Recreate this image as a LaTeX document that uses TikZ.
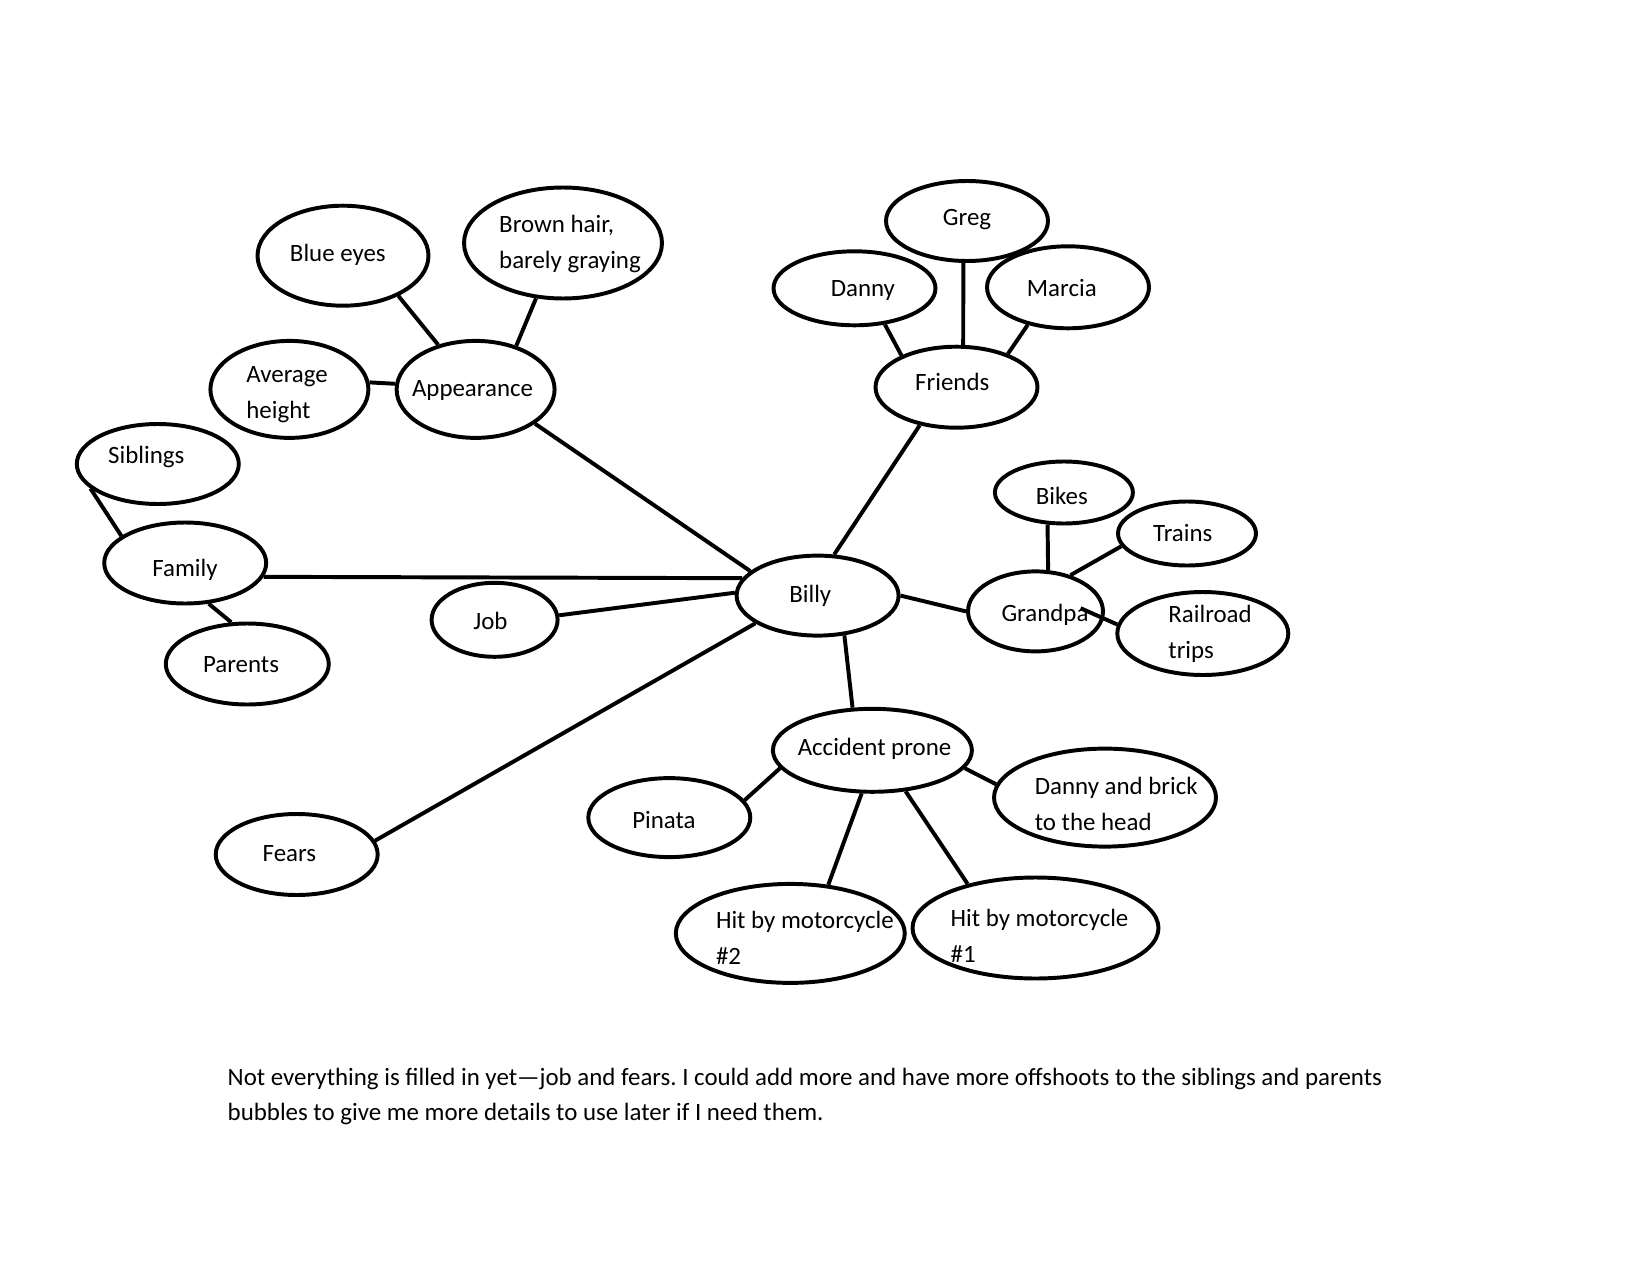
\documentclass[tikz,border=0pt]{standalone}
\usepackage{fontspec}
\setmainfont{Carlito}
\usetikzlibrary{shapes.geometric}
\frenchspacing

\begin{document}
\begin{tikzpicture}[
		x=0.016933cm, y=-0.016933cm,
		bubble/.style 2 args={draw, ellipse, line width=1.9pt, inner sep=0pt, minimum width=#1*0.4818pt, minimum height=#2*0.4818pt},
		txt/.style={inner sep=0pt, yshift=-1pt, font=\fontsize{12pt}{17.25pt}\selectfont, align=left},
		spoke/.style={draw, line width=1.9pt},
		]
		\useasboundingbox (0,0) rectangle (1650,1275);

		% the bubbles
		\node[bubble={162}{80}] (billy) at (817.6,595.6) {};
		\node[bubble={158}{97}] (appearance) at (475.6,389.4) {};
		\node[bubble={171}{100}] (blueeyes) at (343,255.7) {};
		\node[bubble={198}{111}] (brownhair) at (563,243) {};
		\node[bubble={158}{97}] (avgheight) at (289.4,389.4) {};
		\node[bubble={162}{80}] (siblings) at (157.8,464) {};
		\node[bubble={162}{81}] (family) at (185.2,563) {};
		\node[bubble={163}{81}] (parents) at (247.3,664) {};
		\node[bubble={126}{74}] (job) at (494.6,619.8) {};
		\node[bubble={162}{81}] (fears) at (296.7,854.5) {};
		\node[bubble={162}{81}] (friends) at (956.5,387.2) {};
		\node[bubble={162}{74}] (danny) at (854.5,288.3) {};
		\node[bubble={162}{80}] (greg) at (967,221) {};
		\node[bubble={162}{82}] (marcia) at (1068,287.3) {};
		\node[bubble={135}{80}] (grandpa) at (1035.5,611.4) {};
		\node[bubble={138}{62}] (bikes) at (1063.9,492.5) {};
		\node[bubble={138}{64}] (trains) at (1187,533.5) {};
		\node[bubble={171}{83}] (railroad) at (1202.8,633.5) {};
		\node[bubble={199}{83}] (accident) at (872.4,750.3) {};
		\node[bubble={162}{79}] (pinata) at (669.3,817.6) {};
		\node[bubble={222}{98}] (brick) at (1105,797.6) {};
		\node[bubble={229}{99}] (hittwo) at (790.3,933.4) {};
		\node[bubble={246}{101}] (hitone) at (1035.5,928) {};

		% the texts
		\node[txt] (billy-t) at (810.3,593.5) {Billy};
		\node[txt] (appearance-t) at (472.5,388.3) {Appearance};
		\node[txt] (blueeyes-t) at (337.8,252.6) {Blue eyes};
		\node[txt, anchor=west] (brownhair-t) at (498.8,242) {Brown hair,\\barely graying};
		\node[txt, anchor=west] (avgheight-t) at (246,392.5) {Average\\height};
		\node[txt] (siblings-t) at (146.3,454.6) {Siblings};
		\node[txt] (family-t) at (185,568) {Family};
		\node[txt] (parents-t) at (241,663) {Parents};
		\node[txt] (job-t) at (490.4,618.7) {Job};
		\node[txt] (fears-t) at (289.4,851.3) {Fears};
		\node[txt] (friends-t) at (952.3,379.9) {Friends};
		\node[txt] (danny-t) at (862.9,288.3) {Danny};
		\node[txt] (greg-t) at (967,217.8) {Greg};
		\node[txt] (marcia-t) at (1061.8,286.2) {Marcia};
		\node[txt] (grandpa-t) at (1045,612.4) {Grandpa};
		\node[txt] (bikes-t) at (1061.8,493.5) {Bikes};
		\node[txt] (trains-t) at (1182.8,531.4) {Trains};
		\node[txt, anchor=west] (railroad-t) at (1168,631.4) {Railroad\\trips};
		\node[txt] (accident-t) at (874.5,747.1) {Accident prone};
		\node[txt] (pinata-t) at (664,817.6) {Pinata};
		\node[txt, anchor=west] (brick-t) at (1034.4,801.9) {Danny and brick\\to the head};
		\node[txt, anchor=west] (hittwo-t) at (715.6,935.5) {Hit by motorcycle\\\#2};
		\node[txt, anchor=west] (hitone-t) at (950.2,933.4) {Hit by motorcycle\\\#1};
		\node[txt, anchor=west] (note) at (227.3,1094.4) {Not everything is filled in yet—job and fears. I could add more and have more offshoots to the siblings and parents\\bubbles to give me more details to use later if I need them.};

		% the spokes
		\draw[spoke] (appearance.-30) -- (billy.160);
		\draw[spoke] (family.-10) -- (billy.167);
		\draw[spoke] (job.4) -- (billy.178);
		\draw[spoke] (fears.10) -- (billy.-156);
		\draw[spoke] (friends.-134) -- (billy.68);
		\draw[spoke] (billy.0) -- (grandpa.180);
		\draw[spoke] (billy.-56) -- (accident.115);
		\draw[spoke] (blueeyes.-36) -- (appearance.130);
		\draw[spoke] (brownhair.-116) -- (appearance.47);
		\draw[spoke] (avgheight.5) -- (appearance.176);
		\draw[spoke] (siblings.-160) -- (family.157);
		\draw[spoke] (family.-60) -- (parents.111);
		\draw[spoke] (danny.-50) -- (friends.150);
		\draw[spoke] (greg.-95) -- (friends.81);
		\draw[spoke] (marcia.-137) -- (friends.33);
		\draw[spoke] (bikes.-117) -- (grandpa.73);
		\draw[spoke] (trains.-169) -- (grandpa.46);
		\draw[spoke, shorten <=-12.3pt] (grandpa.-6) -- (railroad.174);
		\draw[spoke] (pinata.13) -- (accident.-169);
		\draw[spoke] (accident.-11) -- (brick.173);
		\draw[spoke] (accident.-104) -- (hittwo.52);
		\draw[spoke] (accident.-51) -- (hitone.147);
	\end{tikzpicture}
\end{document}
